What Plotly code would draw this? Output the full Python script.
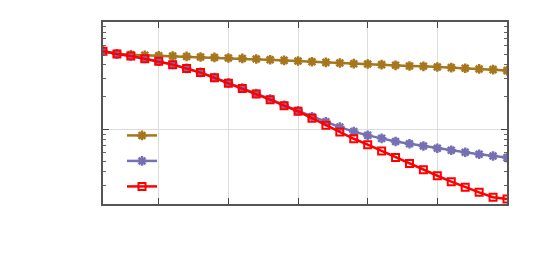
import plotly.graph_objects as go

x_vals = list(range(1, 31))

olive_vals = [5.33, 5.055, 4.948, 4.895, 4.844, 4.813, 4.772, 4.711, 4.671, 4.611,
              4.572, 4.514, 4.447, 4.382, 4.326, 4.262, 4.199, 4.146, 4.084, 4.058,
              3.998, 3.939, 3.889, 3.856, 3.807, 3.751, 3.695, 3.648, 3.594, 3.518]

blue_vals = [5.33, 5.03, 4.82, 4.56, 4.31, 4.02, 3.69, 3.39, 3.03, 2.705,
             2.42, 2.15, 1.91, 1.668, 1.483, 1.305, 1.173, 1.044, 0.948, 0.874,
             0.820, 0.766, 0.731, 0.696, 0.663, 0.635, 0.608, 0.583, 0.562, 0.542]

red_vals = [5.33, 5.022, 4.813, 4.544, 4.290, 3.998, 3.671, 3.372, 3.011, 2.684,
            2.397, 2.123, 1.884, 1.657, 1.468, 1.264, 1.089, 0.938, 0.813, 0.716,
            0.626, 0.542, 0.477, 0.417, 0.367, 0.323, 0.286, 0.257, 0.231, 0.223]

x_ticks = [5, 10, 15, 20, 25, 30]
y_major = [1]
y_minor = [0.3, 0.4, 0.5, 0.6, 0.7, 0.8, 0.9, 2, 3, 4, 5, 6, 7, 8, 9]

OLIVE = "#a6761d"
BLUE = "#7570b3"
RED = "#ff0000"

fig = go.Figure()
fig.add_trace(go.Scatter(x=x_vals, y=olive_vals, mode="lines+markers", name=" ",
                         legendgroup="a",
                         line=dict(color=OLIVE, width=2.5),
                         marker=dict(symbol="asterisk-open", size=8,
                                     line=dict(color=OLIVE, width=2.5))))
fig.add_trace(go.Scatter(x=x_vals, y=blue_vals, mode="lines+markers", name=" ",
                         legendgroup="b",
                         line=dict(color=BLUE, width=2.5),
                         marker=dict(symbol="asterisk-open", size=8,
                                     line=dict(color=BLUE, width=2.5))))
fig.add_trace(go.Scatter(x=x_vals, y=red_vals, mode="lines+markers", name=" ",
                         legendgroup="c",
                         line=dict(color=RED, width=2.5),
                         marker=dict(symbol="square-open", size=7,
                                     line=dict(color=RED, width=2))))

# opaque key box (between grid and traces)
fig.add_shape(type="rect", xref="paper", yref="paper",
              x0=14 / 404, x1=247 / 404, y0=0, y1=(204 - 122) / 184,
              fillcolor="white", line=dict(width=0), layer="between")

fig.update_layout(
    width=529, height=257,
    margin=dict(l=95, r=30, t=12, b=61),
    paper_bgcolor="white", plot_bgcolor="white",
    showlegend=True,
    legend=dict(x=19 / 404, y=(204 - 120) / 184, xanchor="left", yanchor="top",
                bgcolor="rgba(0,0,0,0)", borderwidth=0,
                font=dict(size=12), tracegroupgap=6.5),
    font=dict(family="DejaVu Sans"),
)

fig.update_xaxes(range=[1, 30], tickvals=x_ticks, showticklabels=False,
                 ticks="inside", ticklen=6, tickcolor="#444", tickwidth=1,
                 showgrid=True, gridcolor="#dddddd", gridwidth=1,
                 showline=True, linecolor="#555", linewidth=1.5, mirror="ticks",
                 zeroline=False)
fig.update_yaxes(type="log", range=[-0.69897, 1], tickvals=y_major,
                 showticklabels=False,
                 ticks="inside", ticklen=6, tickcolor="#444", tickwidth=1,
                 showgrid=True, gridcolor="#dddddd", gridwidth=1,
                 showline=True, linecolor="#555", linewidth=1.5, mirror="ticks",
                 zeroline=False,
                 minor=dict(tickvals=y_minor, ticks="inside", ticklen=3,
                            tickcolor="#666", showgrid=False))

fig.write_html("out.html")
